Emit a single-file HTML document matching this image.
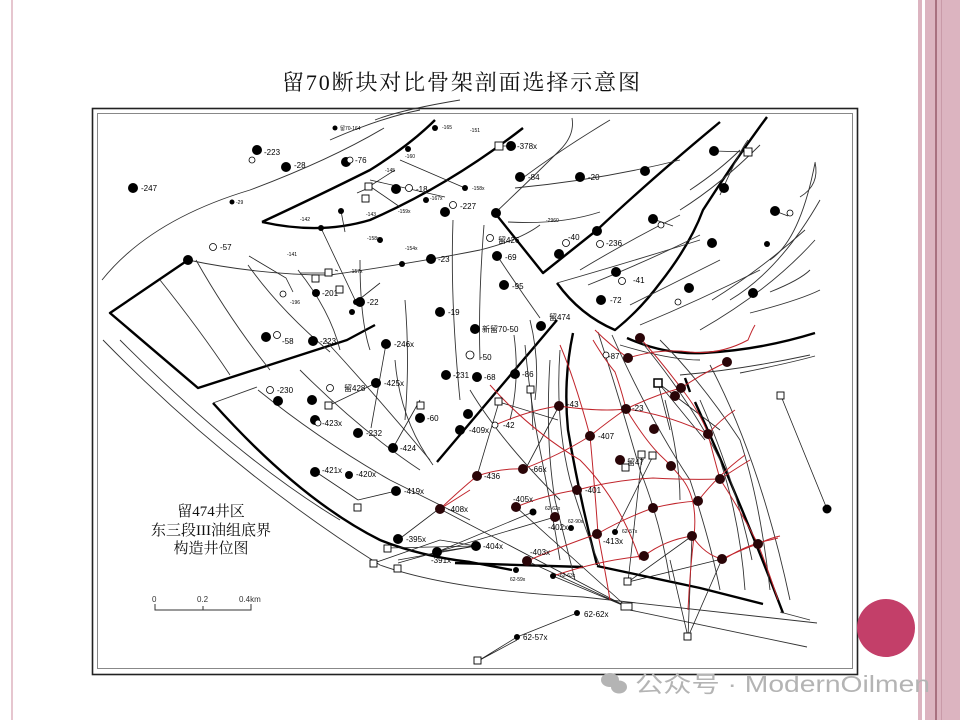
<!DOCTYPE html>
<html><head><meta charset="utf-8"><style>
html,body{margin:0;padding:0;background:#fff;}
body{width:960px;height:720px;overflow:hidden;position:relative;}
svg{position:absolute;left:0;top:0;}
</style></head><body>
<svg width="960" height="720" viewBox="0 0 960 720" xmlns="http://www.w3.org/2000/svg">
<!-- side decorations -->
<rect x="11" y="0" width="2" height="720" fill="#e6c6cf"/>
<rect x="918" y="0" width="4" height="720" fill="#dcb4c0"/>
<rect x="925" y="0" width="10" height="720" fill="#dcb4c0"/>
<rect x="935" y="0" width="2" height="720" fill="#a8707f"/>
<rect x="937" y="0" width="23" height="720" fill="#dcb4c0"/>
<rect x="941" y="0" width="1" height="720" fill="#c99aa8"/>

<text x="282" y="90" font-family="Liberation Serif, Noto Serif CJK SC, serif" font-size="22" textLength="358" fill="#111">留70断块对比骨架剖面选择示意图</text>

<!-- frame -->
<rect x="92.5" y="108.5" width="765" height="566" fill="none" stroke="#222" stroke-width="1.6"/>
<rect x="97.5" y="113.5" width="755" height="555" fill="none" stroke="#888" stroke-width="1"/>

<g fill="none" stroke="#000" stroke-width="2.4" stroke-linejoin="round">
<path d="M262,222 Q320,195 370,170 Q410,145 435,120"/>
<path d="M262,222 Q320,235 370,220 Q450,185 523,128"/>
<path d="M188,260 L110,313 L198,388 L347,340 L375,325"/>
<path d="M213,403 Q300,500 380,540 Q420,556 470,562 L512,570"/>
<path d="M437,462 L557,320"/>
<path d="M495,213 L543,273 L597,230 Q650,180 720,122"/>
<path d="M557,283 Q580,315 615,330 Q640,310 660,283 Q690,245 703,210 Q735,160 767,117"/>
<path d="M627,338 Q665,355 703,353 Q760,350 815,333"/>
<path d="M573,333 Q563,380 568,430 Q580,500 597,565"/>
<path d="M597,566 L700,588 L763,604"/>
<path d="M455,563 L583,567"/>
<path d="M695,402 Q740,500 783,613"/>
<path d="M685,378 L690,392"/>
</g>

<g fill="none" stroke="#333" stroke-width="0.9">
<path d="M102,280 Q150,220 250,190 Q330,160 384,128"/>
<path d="M103,340 Q230,470 380,565 Q450,590 583,597 L817,623"/>
<path d="M120,340 Q240,460 340,520"/>
<path d="M213,403 L257,387"/>
<path d="M630,610 L807,647"/>
<path d="M330,140 Q380,118 420,110"/>
<path d="M188,260 Q260,275 330,275 Q420,262 480,250 Q520,240 540,225"/>
<path d="M160,280 Q200,330 230,375"/>
<path d="M196,260 Q230,320 270,370"/>
<path d="M248,265 Q280,310 330,352"/>
<path d="M298,270 Q330,310 340,350"/>
<path d="M258,390 Q320,440 390,480 Q430,500 470,520"/>
<path d="M300,370 Q360,430 420,470"/>
<path d="M325,340 Q380,400 430,460"/>
<path d="M395,360 Q400,420 433,465"/>
<path d="M360,260 Q360,320 370,350"/>
<path d="M405,300 Q410,360 405,420"/>
<path d="M453,220 Q450,300 460,400"/>
<path d="M484,225 Q478,300 480,360"/>
<path d="M500,260 Q520,290 540,318"/>
<path d="M514,335 Q520,380 510,420"/>
<path d="M530,320 Q540,360 535,400"/>
<path d="M375,120 Q400,110 460,100"/>
<path d="M495,213 Q530,180 560,150 Q575,135 572,118"/>
<path d="M520,180 Q560,150 610,120"/>
<path d="M515,188 Q600,180 680,160"/>
<path d="M508,222 Q560,225 600,212"/>
<path d="M557,283 Q620,265 700,240"/>
<path d="M580,270 Q630,240 680,215"/>
<path d="M588,285 Q650,260 700,235"/>
<path d="M630,305 Q680,280 720,260"/>
<path d="M680,210 Q720,185 760,145"/>
<path d="M690,190 Q720,170 740,150"/>
<path d="M700,330 Q770,290 815,240"/>
<path d="M640,325 Q700,300 760,270"/>
<path d="M712,300 Q760,270 805,230"/>
<path d="M730,300 Q780,270 820,200"/>
<path d="M770,260 Q800,240 815,163"/>
<path d="M750,313 Q800,300 820,290"/>
<path d="M770,292 Q800,280 810,270"/>
<path d="M740,373 Q790,363 815,356"/>
<path d="M800,197 Q820,185 815,162"/>
<path d="M720,195 Q740,150 748,140"/>
<path d="M620,345 Q670,360 700,360 M680,375 Q740,370 810,355"/>
<path d="M598,332 Q620,400 640,470 Q660,520 670,580"/>
<path d="M612,335 Q650,420 690,480 Q710,540 720,590"/>
<path d="M560,350 Q555,420 570,480 Q585,530 600,566"/>
<path d="M550,360 Q545,440 555,500 Q565,540 575,580"/>
<path d="M640,340 Q690,400 720,460 Q740,520 745,590"/>
<path d="M660,340 Q700,380 740,440 Q760,500 770,590"/>
<path d="M700,400 Q735,480 752,560"/>
<path d="M710,365 Q760,460 790,600"/>
<path d="M665,400 Q680,460 680,500"/>
<path d="M525,345 Q530,400 540,450 Q550,500 560,560"/>
<path d="M470,390 Q500,440 560,500"/>
<path d="M780,612 L810,620"/>
</g>

<g fill="none" stroke="#222" stroke-width="0.8">
<path d="M321,228 L356,302 M356,302 L380,283 M341,211 L345,232 M357,193 L371,187 L400,207 M370,186 L395,170 M370,180 L445,197 M400,160 L465,188"/>
<path d="M249,256 L286,278 L293,292 M300,273 L326,273 M335,270 L338,271"/>
<path d="M386,344 L371,428 M376,383 L330,405 M420,400 L393,448 M316,472 L358,500 M358,500 L396,491 M440,508 L398,540 M387,548 L476,546 L437,552 L398,563 M374,563 L440,540 L476,546"/>
<path d="M507,146 L497,146 M714,151 L748,152 M775,211 L788,216 M653,219 L673,226"/>
<path d="M531,390 L533,430 M499,402 L477,476 M499,402 L558,420 M559,406 L525,470"/>
<path d="M658,383 L670,430 M658,383 L720,430 M660,385 L705,440 M781,396 L827,509"/>
<path d="M642,455 L628,582 M653,456 L615,532 M627,607 L440,509 M627,607 L516,507 M627,607 L553,576 M627,607 L527,561 M628,582 L692,536 M628,582 L722,559"/>
<path d="M688,637 L722,559 M688,637 L692,536 M688,637 L670,560"/>
<path d="M478,661 L517,637 L577,613 M478,661 L517,640"/>
<path d="M437,552 L533,512 M437,552 L555,517 M398,560 L476,546"/>
</g>

<g fill="none" stroke="#c0242b" stroke-width="1">
<path d="M440,509 Q460,490 477,476 Q500,468 523,469 Q560,455 590,436 Q610,420 626,409 Q670,415 708,434 Q720,420 735,410"/>
<path d="M495,425 Q530,410 559,406 Q600,412 626,409 Q655,395 681,388 Q705,372 727,362"/>
<path d="M516,507 Q545,495 577,490 Q615,480 653,478 Q690,480 720,479 Q740,466 750,460"/>
<path d="M527,561 Q565,545 597,534 Q625,518 653,508 Q678,502 698,501 Q718,475 745,455"/>
<path d="M553,576 Q600,560 644,556 Q665,540 692,536 Q705,555 722,559 Q745,548 758,544 Q770,538 780,536"/>
<path d="M593,340 Q605,360 615,372 Q622,392 626,409 Q645,440 660,455 Q672,466 683,480 Q698,500 694,536 Q690,570 688,610"/>
<path d="M640,338 Q660,360 681,388 Q700,412 708,434 Q714,458 720,479 Q740,510 758,544 Q770,575 778,600"/>
<path d="M628,358 Q660,348 690,352 Q720,355 748,340 Q752,330 755,325"/>
<path d="M560,345 Q575,380 590,436 Q595,490 598,534 Q605,570 610,600"/>
<path d="M490,385 Q530,430 580,460 Q620,500 640,560"/>
<path d="M595,330 Q610,345 628,358"/>
<path d="M440,509 L470,490"/>
<path d="M723,560 Q745,545 770,540 L778,538"/>
</g>

<g fill="#000">
<circle cx="133" cy="188" r="5"/><circle cx="257" cy="150" r="5"/><circle cx="286" cy="167" r="5"/><circle cx="346" cy="162" r="5"/>
<circle cx="188" cy="260" r="5"/><circle cx="266" cy="337" r="5"/><circle cx="313" cy="341" r="5"/><circle cx="360" cy="302" r="5"/><circle cx="316" cy="293" r="4"/>
<circle cx="511" cy="146" r="5"/><circle cx="520" cy="177" r="5"/><circle cx="580" cy="177" r="5"/><circle cx="645" cy="171" r="5"/><circle cx="714" cy="151" r="5"/><circle cx="724" cy="188" r="5"/><circle cx="775" cy="211" r="5"/><circle cx="712" cy="243" r="5"/><circle cx="753" cy="293" r="5"/>
<circle cx="396" cy="189" r="5"/><circle cx="445" cy="212" r="5"/><circle cx="431" cy="259" r="5"/><circle cx="497" cy="256" r="5"/><circle cx="504" cy="285" r="5"/><circle cx="440" cy="312" r="5"/><circle cx="475" cy="329" r="5"/><circle cx="541" cy="326" r="5"/><circle cx="386" cy="344" r="5"/>
<circle cx="559" cy="254" r="5"/><circle cx="597" cy="231" r="5"/><circle cx="653" cy="219" r="5"/><circle cx="616" cy="272" r="5"/><circle cx="601" cy="300" r="5"/><circle cx="496" cy="213" r="5"/><circle cx="689" cy="288" r="5"/>
<circle cx="446" cy="375" r="5"/><circle cx="477" cy="377" r="5"/><circle cx="515" cy="374" r="5"/><circle cx="376" cy="383" r="5"/>
<circle cx="278" cy="401" r="5"/><circle cx="312" cy="400" r="5"/><circle cx="315" cy="420" r="5"/><circle cx="358" cy="433" r="5"/><circle cx="420" cy="418" r="5"/><circle cx="393" cy="448" r="5"/><circle cx="315" cy="472" r="5"/><circle cx="349" cy="475" r="4"/><circle cx="396" cy="491" r="5"/><circle cx="398" cy="539" r="5"/><circle cx="437" cy="552" r="5"/><circle cx="476" cy="546" r="5"/><circle cx="468" cy="414" r="5"/><circle cx="460" cy="430" r="5"/>
<circle cx="827" cy="509" r="4.5"/><circle cx="533" cy="512" r="3.5"/><circle cx="571" cy="528" r="3"/><circle cx="615" cy="532" r="3"/><circle cx="516" cy="570" r="3"/><circle cx="553" cy="576" r="3"/><circle cx="577" cy="613" r="3"/><circle cx="517" cy="637" r="3"/>
<circle cx="335" cy="128" r="2.5"/><circle cx="232" cy="202" r="2.5"/><circle cx="321" cy="228" r="3"/><circle cx="356" cy="302" r="3"/><circle cx="380" cy="240" r="3"/><circle cx="402" cy="264" r="3"/><circle cx="408" cy="149" r="3"/><circle cx="465" cy="188" r="3"/><circle cx="426" cy="200" r="3"/><circle cx="767" cy="244" r="3"/><circle cx="341" cy="211" r="3"/><circle cx="435" cy="128" r="3"/><circle cx="352" cy="312" r="3"/>
</g>
<g fill="#2a0508">
<circle cx="640" cy="338" r="5"/><circle cx="628" cy="358" r="5"/><circle cx="727" cy="362" r="5"/><circle cx="681" cy="388" r="5"/><circle cx="675" cy="396" r="5"/><circle cx="559" cy="406" r="5"/><circle cx="626" cy="409" r="5"/><circle cx="654" cy="429" r="5"/><circle cx="590" cy="436" r="5"/><circle cx="708" cy="434" r="5"/><circle cx="620" cy="460" r="5"/><circle cx="671" cy="466" r="5"/><circle cx="523" cy="469" r="5"/><circle cx="477" cy="476" r="5"/><circle cx="720" cy="479" r="5"/><circle cx="577" cy="490" r="5"/><circle cx="698" cy="501" r="5"/><circle cx="653" cy="508" r="5"/><circle cx="440" cy="509" r="5"/><circle cx="516" cy="507" r="5"/><circle cx="555" cy="517" r="5"/><circle cx="597" cy="534" r="5"/><circle cx="692" cy="536" r="5"/><circle cx="758" cy="544" r="5"/><circle cx="644" cy="556" r="5"/><circle cx="722" cy="559" r="5"/><circle cx="527" cy="561" r="5"/>
</g>
<g fill="#fff" stroke="#000" stroke-width="0.8">
<circle cx="213" cy="247" r="3.5"/><circle cx="277" cy="335" r="3.5"/><circle cx="252" cy="160" r="3"/><circle cx="350" cy="160" r="3"/><circle cx="409" cy="188" r="3.5"/><circle cx="453" cy="205" r="3.5"/><circle cx="566" cy="243" r="3.5"/><circle cx="600" cy="244" r="3.5"/><circle cx="622" cy="281" r="3.5"/><circle cx="678" cy="302" r="3"/><circle cx="661" cy="225" r="3"/><circle cx="790" cy="213" r="3"/><circle cx="470" cy="355" r="4"/><circle cx="490" cy="238" r="3.5"/><circle cx="270" cy="390" r="3.5"/><circle cx="330" cy="388" r="3.5"/><circle cx="318" cy="423" r="3"/><circle cx="495" cy="425" r="3"/><circle cx="606" cy="355" r="3"/><circle cx="283" cy="294" r="3"/>
</g>
<g fill="#fff" stroke="#000" stroke-width="0.9">
<rect x="365" y="183" width="7" height="7"/><rect x="362" y="195" width="7" height="7"/><rect x="495" y="142" width="8" height="8"/><rect x="744" y="148" width="8" height="8"/><rect x="312" y="275" width="7" height="7"/><rect x="325" y="269" width="7" height="7"/><rect x="336" y="286" width="7" height="7"/><rect x="325" y="402" width="7" height="7"/><rect x="417" y="402" width="7" height="7"/><rect x="354" y="504" width="7" height="7"/><rect x="384" y="545" width="7" height="7"/><rect x="370" y="560" width="7" height="7"/><rect x="394" y="565" width="7" height="7"/>
<rect x="654" y="379" width="8" height="8" stroke-width="1.5"/><rect x="777" y="392" width="7" height="7"/><rect x="527" y="386" width="7" height="7"/><rect x="495" y="398" width="7" height="7"/><rect x="622" y="464" width="7" height="7"/><rect x="638" y="451" width="7" height="7"/><rect x="649" y="452" width="7" height="7"/><rect x="624" y="578" width="7" height="7"/><rect x="621" y="603" width="11" height="7"/><rect x="684" y="633" width="7" height="7"/><rect x="474" y="657" width="7" height="7"/>
</g>

<g font-family="Liberation Sans, sans-serif" font-size="8" fill="#000">
<text x="141" y="191">-247</text><text x="264" y="155">-223</text><text x="294" y="168">-28</text><text x="355" y="163">-76</text><text x="236" y="204" font-size="5">-29</text>
<text x="220" y="250">-57</text><text x="282" y="344">-58</text><text x="320" y="344">-223</text><text x="367" y="305">-22</text><text x="322" y="296">-201</text><text x="290" y="304" font-size="5">-196</text>
<text x="340" y="130" font-size="5">留70-164</text><text x="442" y="129" font-size="5">-165</text><text x="470" y="132" font-size="5">-151</text><text x="405" y="158" font-size="5">-160</text><text x="385" y="172" font-size="5">-145</text>
<text x="416" y="192">-18</text><text x="460" y="209">-227</text><text x="438" y="262">-23</text><text x="505" y="260">-69</text><text x="512" y="289">-95</text><text x="448" y="315">-19</text>
<text x="482" y="332">新留70-50</text><text x="549" y="320">留474</text><text x="394" y="347">-246x</text><text x="517" y="149">-378x</text><text x="528" y="180">-84</text><text x="588" y="180">-20</text>
<text x="568" y="240">-40</text><text x="606" y="246">-236</text><text x="633" y="283">-41</text><text x="610" y="303">-72</text><text x="498" y="243">留426</text>
<text x="453" y="378">-231</text><text x="484" y="380">-68</text><text x="522" y="377">-86</text><text x="384" y="386">-425x</text><text x="344" y="391">留428</text><text x="480" y="360">-50</text>
<text x="277" y="393">-230</text><text x="322" y="426">-423x</text><text x="366" y="436">-232</text><text x="427" y="421">-60</text><text x="400" y="451">-424</text>
<text x="322" y="473">-421x</text><text x="356" y="477">-420x</text><text x="404" y="494">-419x</text><text x="448" y="512">-408x</text><text x="406" y="542">-395x</text><text x="431" y="563">-391x</text><text x="483" y="549">-404x</text>
<text x="469" y="433">-409x</text><text x="503" y="428">-42</text><text x="567" y="407">-43</text><text x="598" y="439">-407</text><text x="531" y="472">-66x</text><text x="484" y="479">-436</text>
<text x="513" y="502">-405x</text><text x="585" y="493">-401</text><text x="548" y="530">-402x</text><text x="530" y="555">-403x</text><text x="603" y="544">-413x</text><text x="632" y="411">-23</text><text x="608" y="359">-87</text><text x="627" y="465">留47</text>
<text x="584" y="617">62-62x</text><text x="523" y="640">62-57x</text>
<text x="545" y="510" font-size="5">62-62x</text><text x="568" y="523" font-size="5">62-90x</text><text x="622" y="533" font-size="5">62-57x</text><text x="510" y="581" font-size="5">62-59x</text><text x="560" y="577" font-size="5">62-63x</text>
<text x="300" y="221" font-size="5">-142</text><text x="287" y="256" font-size="5">-141</text><text x="367" y="240" font-size="5">-158x</text><text x="405" y="250" font-size="5">-154x</text><text x="350" y="273" font-size="5">-157x</text><text x="472" y="190" font-size="5">-158x</text><text x="430" y="200" font-size="5">-167x</text><text x="398" y="213" font-size="5">-159x</text><text x="366" y="216" font-size="5">-143</text><text x="546" y="222" font-size="5">-2960</text>
</g>

<g font-family="Liberation Serif, Noto Serif CJK SC, serif" font-size="15" fill="#111" text-anchor="middle">
<text x="211" y="516">留474井区</text>
<text x="211" y="535">东三段III油组底界</text>
<text x="211" y="553">构造井位图</text>
</g>

<g stroke="#333" stroke-width="1" fill="none">
<path d="M155,604 V610 H251 V604 M203,606 V610"/>
</g>
<g font-family="Liberation Sans, sans-serif" font-size="8" fill="#333">
<text x="152" y="602">0</text><text x="197" y="602">0.2</text><text x="239" y="602">0.4km</text>
</g>

<circle cx="886" cy="628" r="29" fill="#c33f69"/>

<g fill="#b4b4b4">
<ellipse cx="610" cy="680" rx="9" ry="7"/><ellipse cx="619" cy="687" rx="8" ry="6.5"/>
</g>
<text x="635" y="692" font-family="Liberation Sans, Noto Sans CJK SC, sans-serif" font-size="23" textLength="295" lengthAdjust="spacingAndGlyphs" fill="#b4b4b4">公众号 · ModernOilmen</text>
</svg>
</body></html>
